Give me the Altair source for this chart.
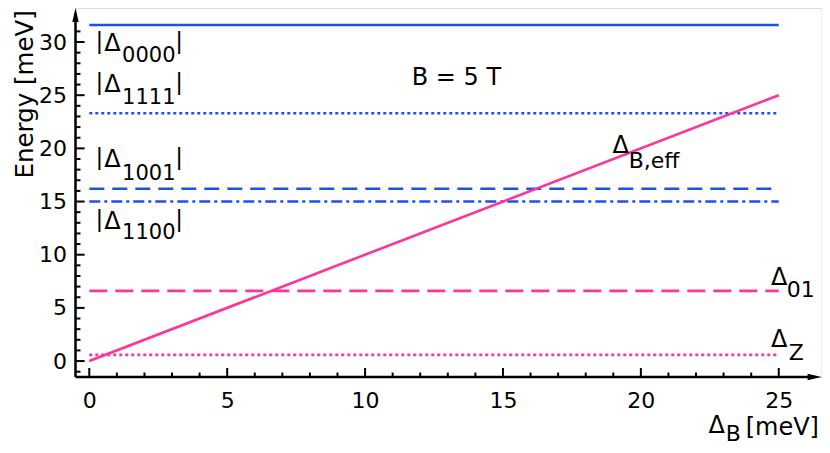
import altair as alt
import pandas as pd

# ---- data ----
level_names = ["|Δ0000|", "|Δ1111|", "|Δ1001|", "|Δ1100|", "Δ01", "ΔZ"]
level_values = [31.6, 23.3, 16.2, 15.0, 6.6, 0.58]
level_x_start = [0, 0, 0, 0, 0, 0]
level_x_end = [25, 25, 25, 25, 25, 25]

diag_x = [0, 25]          # Δ_B
diag_y = [0, 25]          # Δ_B,eff

x_tick_values = [0, 5, 10, 15, 20, 25]
y_tick_values = [0, 5, 10, 15, 20, 25, 30]
x_minor_values = [v for v in range(1, 25) if v % 5 != 0]
y_minor_values = [-1] + [v for v in range(1, 32) if v % 5 != 0]

# annotation pieces: text, x, y (data units), align, font size
ann_text = ["|", "Δ", "0000", "|",
            "|", "Δ", "1111", "|",
            "|", "Δ", "1001", "|",
            "|", "Δ", "1100", "|",
            "Δ", "B,eff",
            "Δ", "01",
            "Δ", "Z",
            "B = 5 T",
            "Δ", "B", "[meV]"]
ann_x = [0.37, 0.84, 1.19, 3.26,
         0.37, 0.84, 1.19, 3.26,
         0.37, 0.84, 1.19, 3.26,
         0.37, 0.84, 1.19, 3.26,
         19.27, 19.56,
         25.02, 25.29,
         25.02, 25.36,
         13.31,
         22.75, 23.08, 23.8]
ann_y = [29.34, 29.15, 28.12, 29.34,
         25.46, 25.27, 24.16, 25.46,
         18.43, 18.24, 17.01, 18.43,
         12.59, 12.4, 11.46, 12.59,
         19.55, 18.14,
         7.13, 6.0,
         1.29, 0.07,
         25.95,
         -6.74, -7.55, -6.93]
ann_align = ["center", "center", "left", "center"] * 4 + \
            ["center", "left"] * 3 + ["center"] + ["center", "left", "left"]
ann_size = [23, 24, 21, 23] * 4 + [24, 22] * 3 + [24] + [24, 22, 24]

ytitle_text = ["Energy [meV]"]
ytitle_x = [-2.04]
ytitle_y = [33.0]

# ---- styles ----
BLUE = "#1f4ff0"
PINK = "#ff3399"
FONT = "DejaVu Sans"
line_styles = [
    (BLUE, None),
    (BLUE, [3, 3]),
    (BLUE, [15, 8]),
    (BLUE, [11, 4, 3, 4]),
    (PINK, [18, 8]),
    (PINK, [3, 3]),
]

xs = alt.Scale(domain=[-0.5, 26.55], nice=False, zero=False)
ys = alt.Scale(domain=[-1.5, 33.2], nice=False, zero=False)
xaxis = alt.Axis(values=x_tick_values, domain=False, ticks=False, tickSize=0,
                 grid=False, labelFontSize=22, labelFont=FONT, labelColor="black",
                 labelPadding=13, title=None)
yaxis = alt.Axis(values=y_tick_values, domain=False, ticks=False, tickSize=0,
                 grid=False, labelFontSize=22, labelFont=FONT, labelColor="black",
                 labelPadding=9, title=None)


def X(f):
    return alt.X(f, type="quantitative", scale=xs, axis=xaxis, title=None)


def Y(f):
    return alt.Y(f, type="quantitative", scale=ys, axis=yaxis, title=None)


layers = []

# horizontal levels
for name, val, x0, x1, (col, dash) in zip(level_names, level_values,
                                          level_x_start, level_x_end, line_styles):
    df = pd.DataFrame({"name": [name], "x": [x0], "x2": [x1], "y": [val]})
    kw = dict(color=col, strokeWidth=2.6)
    if dash:
        kw["strokeDash"] = dash
    layers.append(alt.Chart(df).mark_rule(**kw).encode(x=X("x"), x2="x2", y=Y("y")))

# diagonal
df_diag = pd.DataFrame({"x": diag_x, "y": diag_y})
layers.append(alt.Chart(df_diag).mark_line(color=PINK, strokeWidth=2.6)
              .encode(x=X("x"), y=Y("y")))

# axis lines
df_xaxis = pd.DataFrame({"x": [-0.5], "x2": [26.3], "y": [-1.5]})
layers.append(alt.Chart(df_xaxis).mark_rule(color="black", strokeWidth=2.5)
              .encode(x=X("x"), x2="x2", y=Y("y")))
df_yaxis = pd.DataFrame({"x": [-0.5], "y": [-1.5], "y2": [32.5]})
layers.append(alt.Chart(df_yaxis).mark_rule(color="black", strokeWidth=2.5)
              .encode(x=X("x"), y=Y("y"), y2="y2"))

# arrow heads
df_up = pd.DataFrame({"x": [-0.5], "y": [32.55]})
layers.append(alt.Chart(df_up).mark_point(shape="M0,-1L0.46,1L-0.46,1Z", size=196,
                                          filled=True, color="black", opacity=1)
              .encode(x=X("x"), y=Y("y")))
df_right = pd.DataFrame({"x": [26.3], "y": [-1.5]})
layers.append(alt.Chart(df_right).mark_point(shape="M1,0L-1,0.46L-1,-0.46Z", size=196,
                                             filled=True, color="black", opacity=1)
              .encode(x=X("x"), y=Y("y")))

# ticks (inward)
df_xmaj = pd.DataFrame({"x": x_tick_values, "y": -1.5, "y2": -0.65})
df_xmin = pd.DataFrame({"x": x_minor_values, "y": -1.5, "y2": -1.08})
df_ymaj = pd.DataFrame({"y": y_tick_values, "x": -0.5, "x2": -0.17})
df_ymin = pd.DataFrame({"y": y_minor_values, "x": -0.5, "x2": -0.32})
for d in (df_xmaj, df_xmin):
    layers.append(alt.Chart(d).mark_rule(color="black", strokeWidth=2)
                  .encode(x=X("x"), y=Y("y"), y2="y2"))
for d in (df_ymaj, df_ymin):
    layers.append(alt.Chart(d).mark_rule(color="black", strokeWidth=2)
                  .encode(x=X("x"), x2="x2", y=Y("y")))

# annotations
for t, x, y, a, s in zip(ann_text, ann_x, ann_y, ann_align, ann_size):
    d = pd.DataFrame({"t": [t], "x": [x], "y": [y]})
    layers.append(alt.Chart(d).mark_text(align=a, baseline="alphabetic", fontSize=s,
                                         font=FONT, color="black")
                  .encode(x=X("x"), y=Y("y"), text="t:N"))

# y title
d = pd.DataFrame({"t": ytitle_text, "x": ytitle_x, "y": ytitle_y})
layers.append(alt.Chart(d).mark_text(align="right", baseline="alphabetic", angle=270,
                                     fontSize=24.5, font=FONT, color="black")
              .encode(x=X("x"), y=Y("y"), text="t:N"))

chart = alt.layer(*layers).properties(
    width=746, height=369,
    autosize=alt.AutoSizeParams(type="none"),
    padding={"left": 67.5, "top": 0, "right": 0, "bottom": 68},
).configure_view(stroke=None).configure(background="white")

chart.save("out.html", embed_options={"renderer": "svg", "actions": False})
